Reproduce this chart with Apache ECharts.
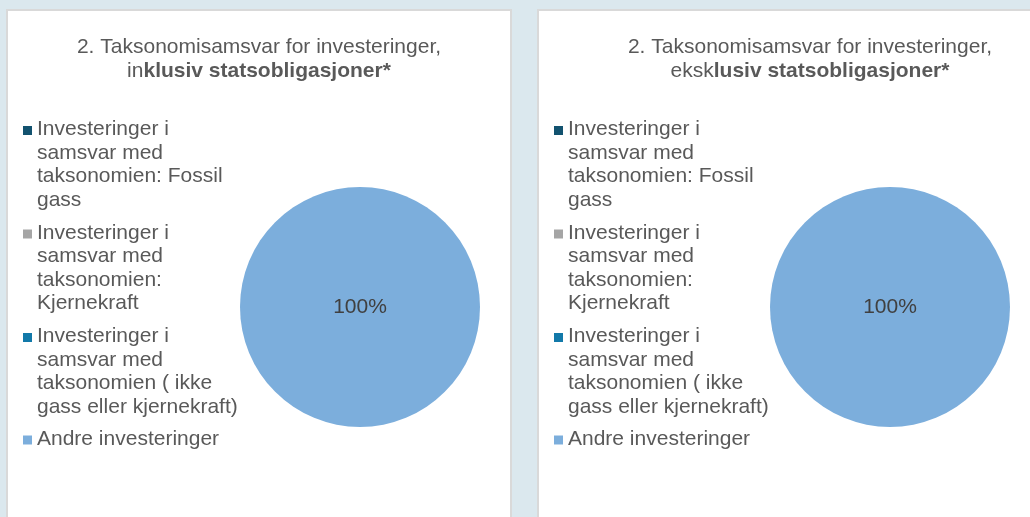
<!DOCTYPE html>
<html>
<head>
<meta charset="utf-8">
<title>Taksonomisamsvar</title>
<script src="https://cdn.jsdelivr.net/npm/echarts@6/dist/echarts.min.js"></script>
<style>
  html, body {
    margin: 0;
    padding: 0;
    width: 1030px;
    height: 517px;
    overflow: hidden;
    background-color: #dbe8ee;
  }
  .panel {
    position: absolute;
    top: 9px;
    height: 540px;
    background-color: #fff;
    border: 2px solid #d9d9d9;
  }
  #panelLeft { left: 6px; width: 502px; }
  #panelRight { left: 537px; width: 542px; }
  .chart-container {
    width: 100%;
    height: 100%;
  }
</style>
</head>
<body>
  <!-- inklusiv statsobligasjoner -->
  <div id="panelLeft" class="panel"><div id="chartLeft" class="chart-container"></div></div>
  <!-- eksklusiv statsobligasjoner -->
  <div id="panelRight" class="panel"><div id="chartRight" class="chart-container"></div></div>

<script>
// kategorier
const categories = [
  'Investeringer i samsvar med taksonomien: Fossil gass',
  'Investeringer i samsvar med taksonomien: Kjernekraft',
  'Investeringer i samsvar med taksonomien ( ikke gass eller kjernekraft)',
  'Andre investeringer'
]

// linjeskift slik som i forklaringen
const legendLabels = [
  'Investeringer i\nsamsvar med\ntaksonomien: Fossil\ngass',
  'Investeringer i\nsamsvar med\ntaksonomien:\nKjernekraft',
  'Investeringer i\nsamsvar med\ntaksonomien ( ikke\ngass eller kjernekraft)',
  'Andre investeringer'
]

const colors = ['#12526f', '#a5a5a5', '#1279a9', '#7caedc']

// andeler (%)
const valuesInklusiv = [0, 0, 0, 100]
const valuesEksklusiv = [0, 0, 0, 100]

const titleInklusiv = '2. Taksonomisamsvar for investeringer,\nin{b|klusiv statsobligasjoner*}'
const titleEksklusiv = '2. Taksonomisamsvar for investeringer,\neksk{b|lusiv statsobligasjoner*}'

const fontFamily = '"Liberation Sans", Arial, sans-serif'
const textColor = '#595959'

// ikon: kvadrat oppe til venstre i en hoy boks (forste tekstlinje)
const iconTall = 'path://M0,8.5h9v9h-9zM0,0M9,0M9,94'
const iconShort = 'path://M0,8.5h9v9h-9zM0,0M9,0M9,23.5'

const buildOption = (title, values, centerX) => {
  const legendBase = {
    orient: 'vertical',
    left: 15,
    padding: 0,
    itemWidth: 9,
    itemGap: 9.5,
    selectedMode: false,
    itemStyle: { borderWidth: 0 },
    formatter: (name) => legendLabels[categories.indexOf(name)],
    textStyle: {
      fontFamily: fontFamily,
      fontSize: 21,
      lineHeight: 23.5,
      color: textColor
    }
  }
  return {
    animation: false,
    title: {
      text: title,
      left: 'center',
      top: 24,
      padding: 0,
      textStyle: {
        fontFamily: fontFamily,
        fontSize: 21,
        fontWeight: 'normal',
        lineHeight: 24,
        color: textColor,
        rich: {
          b: {
            fontFamily: fontFamily,
            fontSize: 21,
            fontWeight: 'bold',
            lineHeight: 24,
            color: textColor
          }
        }
      }
    },
    legend: [
      Object.assign({}, legendBase, {
        top: 106.5,
        itemHeight: 94,
        icon: iconTall,
        data: categories.slice(0, 3)
      }),
      Object.assign({}, legendBase, {
        top: 416,
        itemHeight: 23.5,
        icon: iconShort,
        data: categories.slice(3)
      })
    ],
    series: [
      {
        type: 'pie',
        center: [centerX, 296],
        radius: 120,
        startAngle: 90,
        silent: true,
        itemStyle: { borderWidth: 0 },
        emphasis: { disabled: true },
        label: {
          show: true,
          position: 'center',
          fontFamily: fontFamily,
          fontSize: 21,
          color: '#404040',
          formatter: (p) => (p.value > 0 ? p.percent + '%' : '')
        },
        labelLine: { show: false },
        data: categories.map((name, i) => ({
          name: name,
          value: values[i],
          itemStyle: { color: colors[i] }
        }))
      }
    ]
  }
}

// initialiser diagrammer
const chartLeft = echarts.init(document.getElementById('chartLeft'))
chartLeft.setOption(buildOption(titleInklusiv, valuesInklusiv, 352))

const chartRight = echarts.init(document.getElementById('chartRight'))
chartRight.setOption(buildOption(titleEksklusiv, valuesEksklusiv, 351))

window.addEventListener('resize', () => {
  chartLeft.resize()
  chartRight.resize()
})
</script>
</body>
</html>
